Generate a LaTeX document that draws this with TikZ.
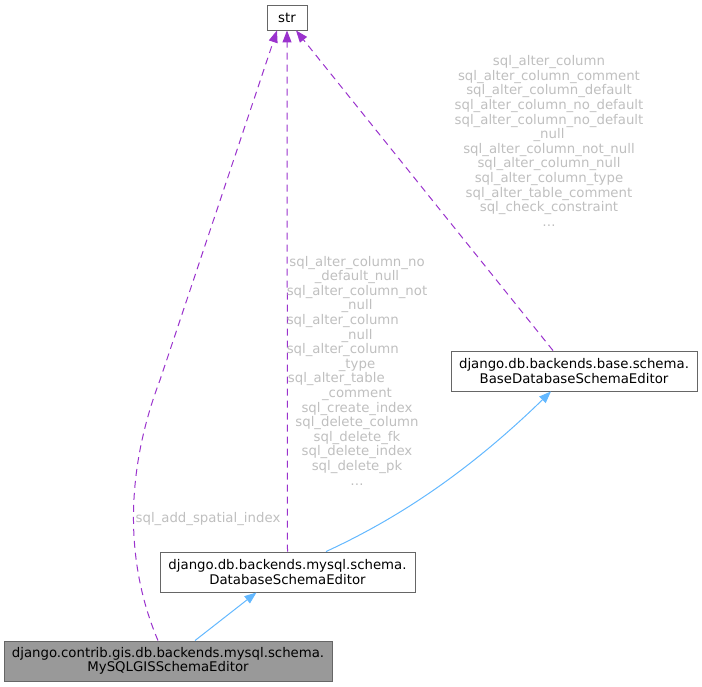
\documentclass[tikz,border=0pt]{standalone}
\usepackage{fontspec}
\setmainfont{DejaVu Sans}
\usepackage{tikz}
\usetikzlibrary{positioning, arrows.meta, calc}
\definecolor{edgeblue}{HTML}{63B8FF}
\definecolor{edgepurple}{HTML}{9A32CD}
\definecolor{boxline}{HTML}{666666}
\definecolor{labelgray}{HTML}{BFBFBF}
\definecolor{curfill}{HTML}{999999}
\tikzset{
  cls/.style = {rectangle, draw=boxline, fill=white, line width=0.9pt,
                inner sep=0pt, align=center, minimum height=40pt,
                font=\fontsize{13.3}{14.6}\selectfont},
  cur/.style = {cls, fill=curfill},
  inh/.style = {-{Triangle[length=12pt,width=9pt]}, draw=edgeblue, line width=1pt},
  use/.style = {-{Triangle[length=12pt,width=9pt]}, draw=edgepurple, line width=1pt,
                dash pattern=on 7pt off 5pt},
  lbl/.style = {align=center, text=labelgray, inner sep=0pt,
                font=\fontsize{13.3}{14.6}\selectfont},
}
% pad a wrapped line so that it starts at the left of the widest one
\newcommand{\leftpart}[2]{#1\hphantom{#2}}

\begin{document}
\begin{tikzpicture}[x=1pt, y=-1pt]
  \useasboundingbox (0,0) rectangle (702,687);

  % classes
  \node[cls, minimum width=40pt, minimum height=25pt] (str) at (287,17.5) {str};
  \node[cls, minimum width=246pt] (base) at (574,371)
       {django.db.backends.base.schema.\\BaseDatabaseSchemaEditor};
  \node[cls, minimum width=255pt] (mysql) at (287.5,572)
       {django.db.backends.mysql.schema.\\DatabaseSchemaEditor};
  \node[cur, minimum width=328pt] (gis) at (168,661)
       {django.contrib.gis.db.backends.mysql.schema.\\MySQLGISSchemaEditor};

  % inheritance
  \draw[inh] ($(mysql.north)+(38.5,0)$) .. controls (390,522) and (462,478) .. ($(base.south)+(-23,0)$);
  \draw[inh] ($(gis.north)+(27,0)$) -- ($(mysql.south)+(-31,0)$);

  % usage
  \draw[use] ($(gis.north)+(-10,0)$) .. controls (128,570) and (122,480) .. (160,380)
       -- ($(str.south)+(-10,0)$);
  \node[lbl] (lgis) at (208,519) {sql\_add\_spatial\_index};

  \draw[use] (mysql.north) -- (str.south);
  \node[lbl] (lmysql) at (357,370.5)
       {sql\_alter\_column\_no\\\_default\_null\\sql\_alter\_column\_not\\\_null\\
        \leftpart{sql\_alter\_column}{\_not}\\\_null\\
        \leftpart{sql\_alter\_column}{\_not}\\\_type\\
        \leftpart{sql\_alter\_table}{m\_not}\\\_comment\\
        sql\_create\_index\\sql\_delete\_column\\sql\_delete\_fk\\sql\_delete\_index\\sql\_delete\_pk\\\dots};

  \draw[use] ($(base.north)+(-21,0)$) -- ($(str.south)+(9,0)$);
  \node[lbl] (lbase) at (549,141)
       {sql\_alter\_column\\sql\_alter\_column\_comment\\sql\_alter\_column\_default\\sql\_alter\_column\_no\_default\\sql\_alter\_column\_no\_default\\\_null\\sql\_alter\_column\_not\_null\\sql\_alter\_column\_null\\sql\_alter\_column\_type\\sql\_alter\_table\_comment\\sql\_check\_constraint\\\dots};

\end{tikzpicture}
\end{document}
